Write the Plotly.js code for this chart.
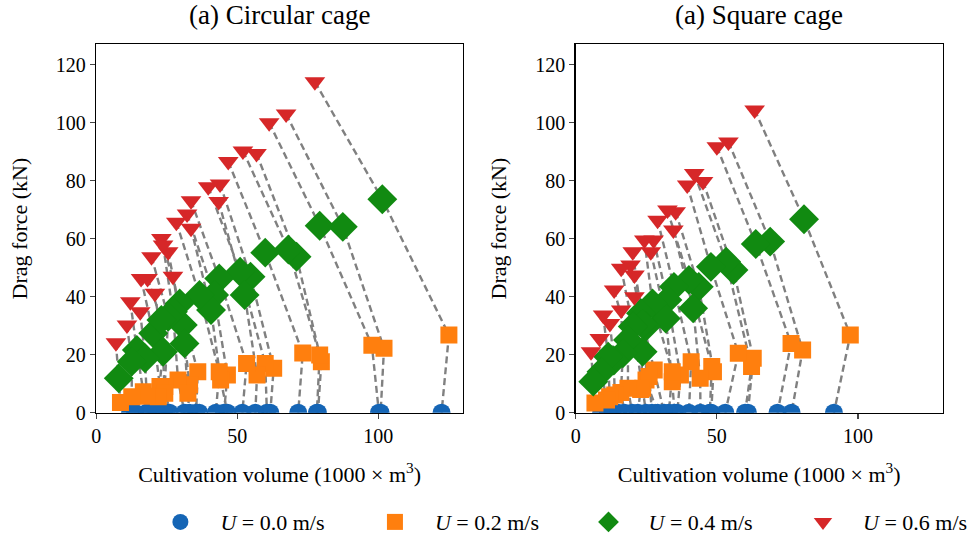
<!DOCTYPE html>
<html>
<head>
<meta charset="utf-8">
<script src="https://cdn.plot.ly/plotly-3.0.1.min.js"></script>
<style>html,body{margin:0;padding:0;background:#fff;}#chart{width:973px;height:549px;}</style>
</head>
<body>
<div id="chart"></div>
<script>
// ---------- DATA ----------
// Circular cage: one entry per configuration
var circV00 = [122.4, 100.8, 100.2, 78.6, 78.2, 71.6, 61.7, 60.5, 56.4, 51.8, 45.3, 46.5, 42.4, 35.4, 36.5, 31.3, 26.0, 33.0, 24.9, 24.0, 21.4, 17.9, 18.5, 13.8, 12.0];
var circV02 = [125.0, 102.0, 97.7, 79.8, 79.2, 73.2, 62.9, 59.9, 57.0, 53.3, 46.5, 44.1, 43.6, 36.0, 33.1, 29.0, 24.3, 32.5, 22.6, 24.3, 22.0, 16.7, 17.9, 12.6, 8.6];
var circD02 = [26.8, 22.2, 23.3, 17.6, 19.9, 20.6, 15.3, 17.0, 13.0, 17.0, 13.0, 11.3, 14.1, 14.1, 9.6, 11.3, 9.0, 6.7, 9.0, 6.7, 5.5, 7.2, 5.7, 5.5, 3.5];
var circV04 = [101.4, 87.4, 79.2, 71.0, 68.1, 59.9, 54.7, 51.0, 52.6, 43.6, 41.8, 40.7, 36.6, 29.6, 30.7, 27.2, 25.5, 31.3, 20.2, 23.1, 23.7, 14.4, 17.3, 12.6, 8.0];
var circD04 = [73.6, 64.1, 64.5, 53.8, 56.3, 55.2, 46.9, 48.6, 40.6, 46.3, 40.6, 35.4, 40.6, 37.7, 30.2, 34.8, 33.1, 23.9, 27.4, 32.0, 21.0, 21.6, 18.8, 17.6, 11.9];
var circV06 = [77.5, 67.3, 61.3, 56.8, 52.0, 46.8, 43.9, 39.7, 43.4, 33.6, 32.2, 33.6, 28.4, 23.1, 25.5, 23.7, 19.6, 27.2, 15.9, 18.2, 20.8, 12.1, 15.6, 10.9, 7.0];
var circD06 = [114.1, 103.0, 100.0, 89.4, 90.3, 86.6, 78.9, 77.9, 72.8, 73.1, 68.5, 63.6, 65.7, 60.1, 55.5, 57.8, 53.8, 47.1, 46.3, 46.3, 41.2, 38.3, 34.8, 30.2, 24.1];

// Square cage
var sqV00 = [91.5, 76.5, 71.5, 61.0, 60.0, 53.0, 48.0, 47.5, 44.2, 40.1, 36.0, 35.0, 33.0, 31.3, 29.0, 27.0, 24.9, 22.0, 20.0, 17.3, 15.0, 13.0, 11.4, 9.0];
var sqV02 = [97.3, 80.4, 76.3, 62.9, 62.3, 57.6, 48.8, 48.2, 44.1, 40.9, 37.1, 34.2, 34.2, 27.8, 24.9, 26.0, 23.7, 23.0, 18.5, 16.0, 13.8, 12.0, 10.9, 6.8];
var sqD02 = [26.8, 21.6, 23.9, 18.8, 15.9, 20.5, 14.1, 15.9, 11.9, 17.6, 13.0, 10.7, 14.1, 14.7, 11.3, 12.5, 8.4, 8.0, 8.4, 7.0, 6.1, 5.5, 4.4, 3.3];
var sqV04 = [80.9, 68.9, 63.8, 55.9, 53.3, 47.9, 43.6, 40.1, 41.6, 34.8, 32.5, 31.9, 27.2, 23.1, 24.9, 23.7, 20.2, 23.7, 18.5, 16.7, 13.5, 11.5, 9.1, 6.2];
var sqD04 = [66.7, 59.0, 58.2, 49.2, 52.1, 50.3, 43.4, 45.8, 36.0, 43.4, 38.9, 32.5, 37.7, 34.3, 29.7, 30.5, 29.7, 21.0, 25.1, 20.5, 18.0, 19.3, 14.1, 10.7];
var sqV06 = [63.4, 54.1, 50.0, 45.1, 42.0, 39.5, 35.4, 32.5, 34.6, 29.0, 27.6, 26.6, 24.3, 20.2, 20.8, 19.4, 16.1, 20.8, 13.6, 16.1, 12.1, 9.7, 8.5, 5.4];
var sqD06 = [104.4, 93.4, 91.7, 79.7, 82.5, 78.5, 69.3, 69.9, 63.0, 66.4, 59.6, 55.5, 59.6, 55.5, 47.5, 50.9, 49.8, 40.0, 42.3, 35.4, 30.8, 33.7, 25.6, 21.0];

var velocityLabels = ['<i>U</i> = 0.0 m/s', '<i>U</i> = 0.2 m/s', '<i>U</i> = 0.4 m/s', '<i>U</i> = 0.6 m/s'];
var panelTitles = ['(a) Circular cage', '(a) Square cage'];
var xTickVals = [0, 50, 100];
var yTickVals = [0, 20, 40, 60, 80, 100, 120];

// ---------- STYLE ----------
var colors = ['#1565b5', '#ff7f0e', '#118a11', '#d62728'];
var symbols = ['circle', 'square', 'diamond', 'triangle-down'];
var sizes = [18, 17, 23, 18];
var legendNames = ['legend', 'legend2', 'legend3', 'legend4'];
var FONT = 'Liberation Serif, Times New Roman, serif';

function buildPanel(V0, V1, D1, V2, D2, V3, D3, xa, ya, showLeg) {
  var traces = [];
  var lx = [], ly = [];
  for (var i = 0; i < V0.length; i++) {
    lx.push(V3[i], V2[i], V1[i], V0[i], null);
    ly.push(D3[i], D2[i], D1[i], 0, null);
  }
  traces.push({x: lx, y: ly, xaxis: xa, yaxis: ya, mode: 'lines', type: 'scatter',
    line: {color: '#808080', width: 2.4, dash: '7px,4px'}, showlegend: false, hoverinfo: 'skip'});
  var sets = [[V0, V0.map(function(){return 0;})], [V1, D1], [V2, D2], [V3, D3]];
  for (var k = 0; k < 4; k++) {
    traces.push({x: sets[k][0], y: sets[k][1], xaxis: xa, yaxis: ya, mode: 'markers', type: 'scatter',
      name: velocityLabels[k], showlegend: showLeg, legend: legendNames[k],
      marker: {color: colors[k], symbol: symbols[k], size: sizes[k], line: {width: 0}}});
  }
  return traces;
}

var data = [].concat(
  buildPanel(circV00, circV02, circD02, circV04, circD04, circV06, circD06, 'x', 'y', true),
  buildPanel(sqV00, sqV02, sqD02, sqV04, sqD04, sqV06, sqD06, 'x2', 'y2', false)
);
data.sort(function(a, b){ return (a.mode === 'lines' ? 0 : 1) - (b.mode === 'lines' ? 0 : 1); });

function xaxisDef(domain, anchor) {
  return {domain: domain, anchor: anchor, range: [0, 130], tickvals: xTickVals, ticks: 'outside', ticklen: 5, tickwidth: 1.3,
    showgrid: false, zeroline: false, showline: true, mirror: true, linecolor: '#000', linewidth: 1.4,
    tickfont: {family: FONT, size: 20, color: '#000'},
    title: {text: 'Cultivation volume (1000 × m<sup>3</sup>)', font: {family: FONT, size: 22, color: '#000'}, standoff: 20}};
}
function yaxisDef(anchor) {
  return {domain: [0.2483, 0.919], anchor: anchor, range: [0, 127], tickvals: yTickVals, ticks: 'outside', ticklen: 5, tickwidth: 1.3,
    showgrid: false, zeroline: false, showline: true, mirror: true, linecolor: '#000', linewidth: 1.4,
    tickfont: {family: FONT, size: 20, color: '#000'},
    title: {text: 'Drag force (kN)', font: {family: FONT, size: 22, color: '#000'}, standoff: 22}};
}

function legendDef(px) {
  return {orientation: 'h', x: px / 973, xanchor: 'left', y: 0.049, yanchor: 'middle',
    font: {family: FONT, size: 22, color: '#000'}, itemwidth: 70, bgcolor: 'rgba(0,0,0,0)', borderwidth: 0};
}

var layout = {
  width: 973, height: 549,
  margin: {l: 0, r: 0, t: 0, b: 0},
  paper_bgcolor: '#fff', plot_bgcolor: '#fff',
  font: {family: FONT, color: '#000'},
  xaxis: xaxisDef([0.1, 0.4813], 'y'),
  yaxis: yaxisDef('x'),
  xaxis2: xaxisDef([0.5985, 0.9798], 'y2'),
  yaxis2: yaxisDef('x2'),
  showlegend: true,
  legend: legendDef(142),
  legend2: legendDef(359),
  legend3: legendDef(575),
  legend4: legendDef(792),
  annotations: [
    {text: panelTitles[0], xref: 'paper', yref: 'paper', x: 0.2907, y: 0.972, xanchor: 'center', yanchor: 'middle', showarrow: false, font: {family: FONT, size: 27, color: '#000'}},
    {text: panelTitles[1], xref: 'paper', yref: 'paper', x: 0.7892, y: 0.972, xanchor: 'center', yanchor: 'middle', showarrow: false, font: {family: FONT, size: 27, color: '#000'}}
  ]
};

Plotly.newPlot('chart', data, layout, {displayModeBar: false, staticPlot: true});
</script>
</body>
</html>
